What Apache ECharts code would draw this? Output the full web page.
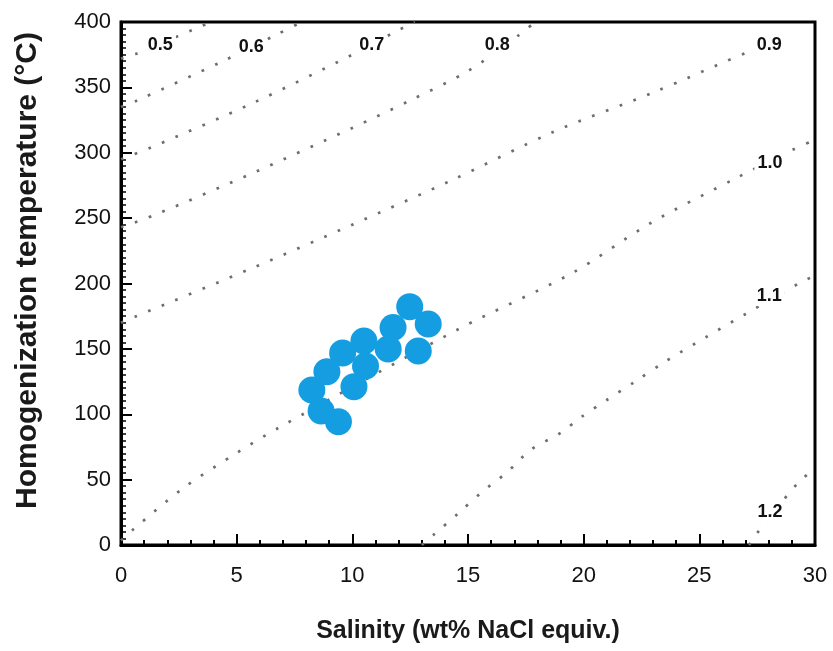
<!DOCTYPE html>
<html>
<head>
<meta charset="utf-8">
<script src="https://cdn.jsdelivr.net/npm/echarts@6/dist/echarts.min.js"></script>
<style>
html,body{margin:0;padding:0;background:#fff;}
#chart{width:833px;height:651px;}
</style>
</head>
<body>
<div id="chart"></div>
<script>
// Fluid inclusion data: salinity (wt% NaCl equiv.) and homogenization temperature (°C)
const salinity    = [8.25, 8.65, 9.40, 8.90, 9.58, 10.50, 10.57, 10.07, 11.55, 11.76, 12.48, 13.28, 12.85];
const temperature = [118.5, 102.5, 94.3, 132.5, 146.8, 156.0, 136.9, 121.1, 149.9, 166.3, 182.3, 169.0, 148.4];

// Isochore (density, g/cm3) curves, read as [salinity, temperature] points
const iso05 = [[0,372],[0.7,376],[3.1,394],[3.9,400]];
const iso06 = [[0,335],[0.7,340],[4.4,370],[6.8,391],[7.8,400]];
const iso07 = [[0,295],[1.3,304],[5.7,338],[10.0,375],[11.8,392],[12.7,400]];
const iso08 = [[0,243],[1.4,252],[5.7,284.5],[10.0,319],[12.5,340],[15.0,362.5],[17.2,390],[17.9,400]];
const iso09 = [[0,170],[0.6,174.5],[5.7,212],[10.0,245],[14.3,279],[18.7,316],[23.0,346],[27.3,378.5],[28.0,382]];
const iso10 = [[0,3.5],[0.5,11.5],[2.7,43.6],[5.0,70.4],[6.8,89.5],[14.6,165.2],[19.5,208],[22.9,246.3],[26.6,280.7],[29.0,302],[30,310]];
const iso11 = [[13.0,0],[13.5,7.6],[14.6,24.5],[15.6,40.5],[16.7,55.8],[17.7,72.7],[19.0,85.7],[19.9,97.9],[21.0,110.9],[22.2,124.7],[23.5,140],[25.3,159.1],[27.0,176.7],[29.4,201],[30,206]];
const iso12 = [[27.15,0],[27.5,9.2],[29.3,48.2],[30,58]];

// Isochore labels
const isoNames  = ['0.5','0.6','0.7','0.8','0.9','1.0','1.1','1.2'];
const isoLabelS = [1.70, 5.63, 10.84, 16.26, 28.02, 28.05, 28.02, 28.05];
const isoLabelT = [382.4, 381.0, 382.4, 382.4, 382.4, 292.2, 190.4, 25.2];

// Axis ranges / ticks
const xMin = 0, xMax = 30, xStep = 5;
const yMin = 0, yMax = 400, yStep = 50;

const isoLines = [iso05, iso06, iso07, iso08, iso09, iso10, iso11, iso12];

const chart = echarts.init(document.getElementById('chart'), null, {renderer: 'canvas'});

const FONT = "'Liberation Sans', Arial, Helvetica, sans-serif";

const series = [];
isoLines.forEach((pts, i) => {
  series.push({
    type: 'line',
    name: 'iso' + isoNames[i],
    data: pts,
    symbol: 'none',
    smooth: 0.3,
    clip: true,
    silent: true,
    z: 2,
    lineStyle: {color: '#6e6e6e', width: 2.7, type: [2.7, 12], cap: 'butt'}
  });
});

series.push({
  type: 'scatter',
  name: 'labels',
  data: isoNames.map((n, i) => ({name: n, value: [isoLabelS[i], isoLabelT[i]]})),
  symbol: 'circle',
  symbolSize: 1,
  itemStyle: {color: 'rgba(0,0,0,0)'},
  silent: true,
  z: 5,
  label: {
    show: true,
    position: 'inside',
    formatter: p => p.name,
    fontFamily: FONT,
    fontSize: 18,
    fontWeight: 'bold',
    color: '#111',
    opacity: 1,
    backgroundColor: '#fff',
    padding: [1, 3]
  }
});

series.push({
  type: 'scatter',
  name: 'inclusions',
  data: salinity.map((s, i) => [s, temperature[i]]),
  symbol: 'circle',
  symbolSize: 27,
  z: 4,
  itemStyle: {color: '#149ee1', opacity: 1}
});

chart.setOption({
  animation: false,
  backgroundColor: '#fff',
  grid: {
    left: 121, right: 18, top: 22, bottom: 106,
    show: true, borderColor: '#000', borderWidth: 3, backgroundColor: 'transparent'
  },
  xAxis: {
    type: 'value', min: xMin, max: xMax, interval: xStep,
    name: 'Salinity (wt% NaCl equiv.)',
    nameLocation: 'middle', nameGap: 74,
    nameTextStyle: {fontFamily: FONT, fontSize: 25, fontWeight: 'bold', color: '#1a1a1a'},
    axisLine: {show: true, onZero: false, lineStyle: {color: '#000', width: 3}},
    axisTick: {show: true, inside: true, length: 11, lineStyle: {color: '#000', width: 2}},
    minorTick: {show: true, splitNumber: 5, length: 5, lineStyle: {color: '#000', width: 2}},
    splitLine: {show: false},
    axisLabel: {fontFamily: FONT, fontSize: 22, color: '#111', margin: 20}
  },
  yAxis: {
    type: 'value', min: yMin, max: yMax, interval: yStep,
    name: 'Homogenization temperature (°C)',
    nameLocation: 'middle', nameGap: 78, nameRotate: 90,
    nameTextStyle: {fontFamily: FONT, fontSize: 30, fontWeight: 'bold', color: '#1a1a1a', padding: [0, 0, 0, 26]},
    axisLine: {show: true, onZero: false, lineStyle: {color: '#000', width: 3}},
    axisTick: {show: true, inside: true, length: 11, lineStyle: {color: '#000', width: 2}},
    minorTick: {show: true, splitNumber: 10, length: 5, lineStyle: {color: '#000', width: 1.5}},
    splitLine: {show: false},
    axisLabel: {fontFamily: FONT, fontSize: 22, color: '#111', margin: 10}
  },
  series: series
});
</script>
</body>
</html>
